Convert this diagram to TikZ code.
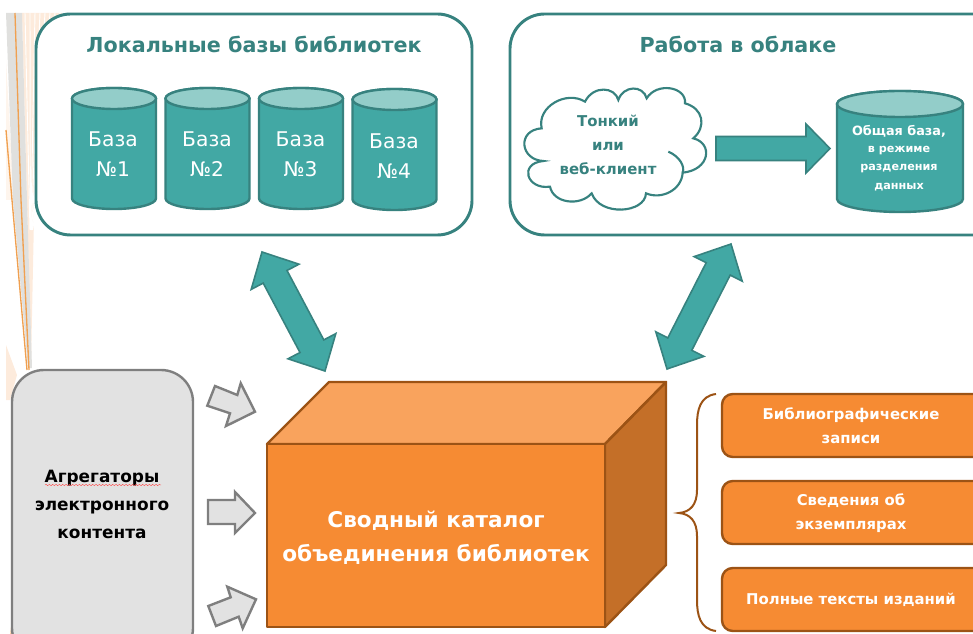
\documentclass[tikz,border=0pt]{standalone}
\usepackage{fontspec}
\setmainfont{DejaVu Sans}
\usetikzlibrary{decorations.pathmorphing}
\definecolor{teal1}{HTML}{42A8A4}
\definecolor{teal2}{HTML}{93CDC9}
\definecolor{teal3}{HTML}{37827F}
\definecolor{org1}{HTML}{F68B33}
\definecolor{org2}{HTML}{F9A35D}
\definecolor{org3}{HTML}{C46F28}
\definecolor{org4}{HTML}{9C5315}
\definecolor{gr1}{HTML}{E2E2E2}
\definecolor{gr2}{HTML}{7F7F7F}
\definecolor{pale}{HTML}{FDEBDC}
\definecolor{stripe}{HTML}{E0E0DE}
\definecolor{ray}{HTML}{F0A050}
\newcommand{\dbcyl}[6]{% cx, top, bottom, rx, ry, name
 \draw[cylline] (#1-#4,#2+#5) -- (#1-#4,#3-#5) arc[start angle=180,end angle=0,x radius=#4,y radius=#5] -- (#1+#4,#2+#5) arc[start angle=0,end angle=-180,x radius=#4,y radius=#5] -- cycle;
 \draw[cyltop] (#1,#2+#5) ellipse[x radius=#4,y radius=#5];
 \coordinate (#6) at (#1,#2+#5);
}
\tikzset{
 x=0.75pt,y=-0.75pt,
 panel/.style={draw=teal3,line width=2.2pt,fill=white,rounded corners=26pt},
 cylline/.style={draw=teal3,line width=1.8pt,fill=teal1},
 cyltop/.style={draw=teal3,line width=1.8pt,fill=teal2},
 title/.style={text=teal3,font=\fontsize{15.5}{20}\selectfont\bfseries},
 dbtext/.style={text=white,align=center,font=\fontsize{15.2}{22.5}\selectfont},
 cloudtext/.style={text=teal3,align=center,font=\fontsize{11.2}{18}\selectfont\bfseries},
 bigarrow/.style={draw=teal3,line width=1.2pt,fill=teal1,line join=miter},
 greyarrow/.style={draw=gr2,line width=1.8pt,fill=gr1,line join=miter},
 infobox/.style={draw=org4,line width=1.8pt,fill=org1,rounded corners=8pt},
 infotext/.style={text=white,align=center,font=\fontsize{11.15}{18.2}\selectfont\bfseries},
 boxface/.style={draw=org4,line width=1.8pt,line join=round},
}
\begin{document}
\begin{tikzpicture}
\useasboundingbox (0,0) rectangle (973,634);
\clip (0,0) rectangle (973,634);
% slide background remnants
\fill[pale] (22,13) -- (62,13) -- (36,120) -- (31,365) -- (27,200) -- cycle;
\foreach \k in {0,...,7} {\draw[white,line width=0.7pt] (25+\k*5,13) -- (30+\k*0.4,230);}
\fill[pale!50] (6,60) -- (6,200) -- (14,200) -- cycle;
\fill[stripe] (6,13) -- (22,13) -- (27,200) -- (32,368) -- (28,368) -- (13,200) -- cycle;
\fill[pale] (6,345) -- (17,375) -- (10,400) -- (6,400) -- cycle;
\draw[ray,line width=1pt] (15,13) -- (21,200) -- (29,370);
\draw[ray,line width=1pt] (6,130) -- (12,200) -- (27,370);
\draw[ray,line width=0.8pt] (13,610) -- (11,634);
\draw[ray,line width=0.8pt] (18,620) -- (16,634);
% panels
\draw[panel] (36,14) rectangle (472,235);
\draw[panel] (510,14) rectangle (1010,235);
\node[title] (t1) at (254,44) {Локальные базы библиотек};
\node[title] (t2) at (738,44) {Работа в облаке};
% local bases
\dbcyl{114}{88}{209}{42}{10.5}{c1}
\dbcyl{207.5}{88}{209}{42}{10.5}{c2}
\dbcyl{301}{88}{209}{42}{10.5}{c3}
\dbcyl{394.5}{89}{210}{42}{10.5}{c4}
\node[dbtext] (b1) at (113,154) {База\\№1};
\node[dbtext] (b2) at (207,154) {База\\№2};
\node[dbtext] (b3) at (300.5,154) {База\\№3};
\node[dbtext] (b4) at (394,156) {База\\№4};
% cloud
\begin{scope}[shift={(490,0)},x=0.25pt,y=-0.25pt]
\draw[draw=teal3,line width=1.6pt,fill=white]
 (155,385) .. controls (140,320) and (230,270) .. (285,305)
 .. controls (310,255) and (375,260) .. (385,300)
 .. controls (400,255) and (460,255) .. (470,295)
 .. controls (500,245) and (590,260) .. (585,310)
 .. controls (640,325) and (650,380) .. (610,415)
 .. controls (670,430) and (660,510) .. (578,518)
 .. controls (575,570) and (515,600) .. (468,580)
 .. controls (465,640) and (330,650) .. (305,580)
 .. controls (270,620) and (190,610) .. (180,560)
 .. controls (110,570) and (85,490) .. (160,483)
 .. controls (90,480) and (80,390) .. (155,385) -- cycle;
\draw[draw=teal3,line width=1.6pt] (535,455) .. controls (570,470) and (585,500) .. (578,518);
\end{scope}
\node[cloudtext] (cl) at (608,145) {Тонкий\\или\\веб-клиент};
% shared base
\dbcyl{900}{91}{212}{63}{13}{c5}
\node[text=white,font=\fontsize{9.6}{12}\selectfont\bfseries] (s1) at (899,131) {Общая база,};
\node[text=white,font=\fontsize{8.4}{10}\selectfont\bfseries] (s2) at (899,151) {в режиме};
\node[text=white,font=\fontsize{8.4}{10}\selectfont\bfseries] (s3) at (899,169) {разделения};
\node[text=white,font=\fontsize{8.4}{10}\selectfont\bfseries] (s4) at (899,187) {данных};
% thick arrows
\draw[bigarrow] (716,136.5) -- (806,136.5) -- (806,124) -- (830,148.5) -- (806,173) -- (806,160.5) -- (716,160.5) -- cycle;
\draw[bigarrow] (262,252) -- (299,264.2) -- (287,270.5) -- (323.8,339.9) -- (335.8,333.6) -- (325,371) -- (288,358.8) -- (300,352.5) -- (263.2,283.1) -- (251.2,289.4) -- cycle;
\draw[bigarrow] (731,244) -- (742.2,281.2) -- (730.2,275.1) -- (691.8,350.3) -- (703.8,356.4) -- (667,369) -- (655.8,331.8) -- (667.8,337.9) -- (706.2,262.7) -- (694.2,256.6) -- cycle;
% big box
\draw[boxface,fill=org2] (267,444) -- (329,382) -- (666,382) -- (605,444) -- cycle;
\draw[boxface,fill=org3] (605,444) -- (666,382) -- (666,565) -- (605,627) -- cycle;
\draw[boxface,fill=org1] (267,444) rectangle (605,627);
\node[text=white,align=center,font=\fontsize{16.2}{25.5}\selectfont\bfseries] (main) at (436,538) {Сводный каталог\\объединения библиотек};
% aggregators
\draw[draw=gr2,line width=1.8pt,fill=gr1,rounded corners=24pt] (12,370) rectangle (193,660);
\node[text=black,align=center,font=\fontsize{12.7}{21}\selectfont\bfseries] (ag) at (102,504) {Агрегаторы\\электронного\\контента};
\draw[red!70,line width=0.3pt,decorate,decoration={snake,amplitude=0.5pt,segment length=2.5pt}] (45,485) -- (161,485);
% grey arrows
\draw[greyarrow] (215,386) -- (237.3,395) -- (240.7,383.3) -- (255,411.7) -- (226,426) -- (230,413.3) -- (207.3,405.7) -- cycle;
\draw[greyarrow] (208,500) -- (235,500) -- (235,492) -- (255,513) -- (235,533) -- (235,524) -- (208,524) -- cycle;
\draw[greyarrow] (208.3,606) -- (230.7,597.3) -- (227.3,586.7) -- (256,599.3) -- (242.7,628.3) -- (238.7,616.7) -- (216,626) -- cycle;
% info boxes
\draw[infobox] (722,394) rectangle (1000,457);
\draw[infobox] (722,481) rectangle (1000,544);
\draw[infobox] (722,568) rectangle (1000,631);
\node[infotext] (i1) at (851,426) {Библиографические\\записи};
\node[infotext] (i2) at (851,513) {Сведения об\\экземплярах};
\node[infotext] (i3) at (851,600) {Полные тексты изданий};
% brace
\draw[draw=org4,line width=1.5pt] (716,394) .. controls (700,396) and (697,410) .. (697,425) -- (697,490) .. controls (697,505) and (690,512) .. (679,513) .. controls (690,514) and (697,521) .. (697,536) -- (697,600) .. controls (697,615) and (700,629) .. (716,631);
\end{tikzpicture}
\end{document}
